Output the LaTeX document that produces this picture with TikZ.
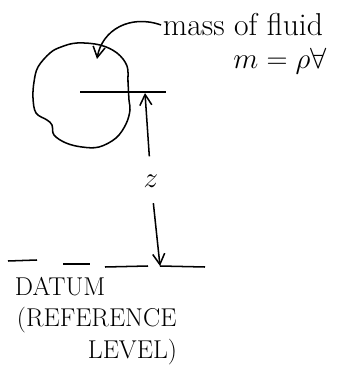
\documentclass[tikz,border=0pt]{standalone}
\usepackage{amsmath}
\usepackage{amssymb}
\usepackage{tikz}
\usetikzlibrary{arrows.meta,positioning}

\begin{document}
\begin{tikzpicture}[x=0.03cm,y=-0.03cm,
    line width=1.3pt,
    every node/.style={inner sep=1pt},
    barb/.style={-{Straight Barb[length=3.2mm,width=3.6mm]}},
    handtext/.style={font=\fontsize{27}{30}\selectfont},
    capstext/.style={font=\fontsize{22}{24}\selectfont,anchor=west}]
  \useasboundingbox (0,0) rectangle (337,369);

  % the parcel of fluid
  \draw plot[smooth cycle,tension=0.6] coordinates {
    (77,43) (100,45) (117,53) (127,66) (128,82) (129,100) (130,110)
    (126,124) (116,138) (99,147) (82,147) (66,143) (54,135) (52,125)
    (47,120) (36,113) (33,98) (34,82) (38,67) (50,53) (61,47)};
  \coordinate (blob) at (97,59);

  % level of the centre of mass
  \coordinate (lvlL) at (80,92);
  \coordinate (lvlR) at (166,92);
  \coordinate (ztop) at (145,93);
  \draw (lvlL) -- (lvlR);

  % labels
  \node[handtext] (mass) at (243,25) {mass of fluid};
  \node[font=\fontsize{31}{34}\selectfont,below=7pt of mass.south east,anchor=north east,xshift=3pt] (mrho) {$m=\rho\forall$};
  \draw[barb] (mass.west) .. controls (130,14) and (102,30) .. (blob);

  % height z
  \node[handtext] (z) at (151,181) {$z$};
  \coordinate (zbot) at (160,266);
  \draw[barb,shorten <=14pt] (z) -- (ztop);
  \draw[barb,shorten <=12pt] (z) -- (zbot);

  % datum
  \foreach \xa/\ya/\xb/\yb in {8/261/37/260, 63/264/90/264, 105/267/148/266}
    \draw (\xa,\ya) -- (\xb,\yb);
  \draw (zbot) -- (205,267);
  \node[capstext] (datum) at (13,287) {DATUM};
  \node[capstext] (ref) at (15,320) {(REFERENCE};
  \node[capstext] (level) at (86,352) {LEVEL)};
\end{tikzpicture}
\end{document}
